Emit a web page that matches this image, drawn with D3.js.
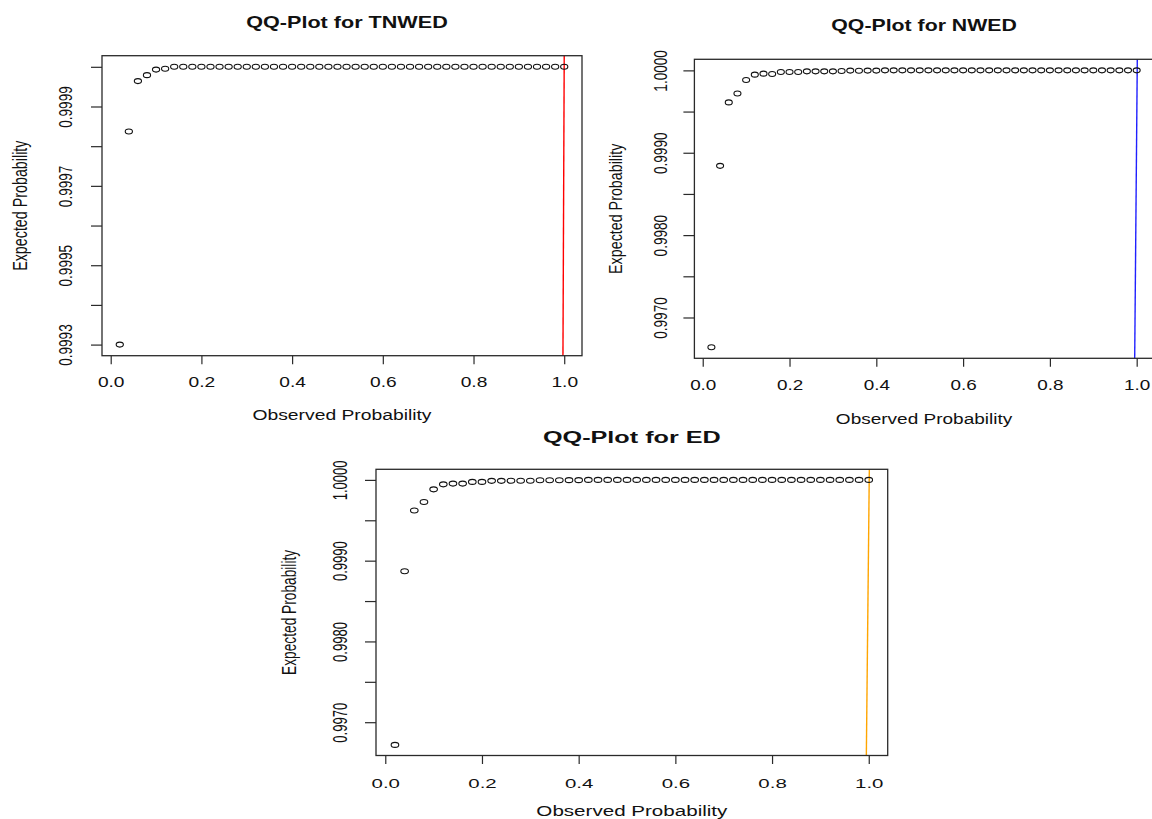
<!DOCTYPE html>
<html>
<head>
<meta charset="utf-8">
<script src="https://cdn.jsdelivr.net/npm/d3@7"></script>
<style>
  html, body { margin: 0; padding: 0; background: #ffffff; }
  svg { display: block; }
  text { font-family: "Liberation Sans", Arial, Helvetica, sans-serif; fill: #111; }
</style>
</head>
<body>
<svg id="chart" width="1152" height="819"></svg>
<script>
// ---------------- data ----------------
const observedProbability = [
  0.02, 0.04, 0.06, 0.08, 0.10, 0.12, 0.14, 0.16, 0.18, 0.20,
  0.22, 0.24, 0.26, 0.28, 0.30, 0.32, 0.34, 0.36, 0.38, 0.40,
  0.42, 0.44, 0.46, 0.48, 0.50, 0.52, 0.54, 0.56, 0.58, 0.60,
  0.62, 0.64, 0.66, 0.68, 0.70, 0.72, 0.74, 0.76, 0.78, 0.80,
  0.82, 0.84, 0.86, 0.88, 0.90, 0.92, 0.94, 0.96, 0.98, 1.00
];

const tnwedExpected = [
  0.999300, 0.999837, 0.999964, 0.999979, 0.999993, 0.999995, 1.000000, 1.000000, 1.000000, 1.000000,
  1.000000, 1.000000, 1.000000, 1.000000, 1.000000, 1.000000, 1.000000, 1.000000, 1.000000, 1.000000,
  1.000000, 1.000000, 1.000000, 1.000000, 1.000000, 1.000000, 1.000000, 1.000000, 1.000000, 1.000000,
  1.000000, 1.000000, 1.000000, 1.000000, 1.000000, 1.000000, 1.000000, 1.000000, 1.000000, 1.000000,
  1.000000, 1.000000, 1.000000, 1.000000, 1.000000, 1.000000, 1.000000, 1.000000, 1.000000, 1.000000
];

const nwedExpected = [
  0.996639, 0.998841, 0.999611, 0.999720, 0.999883, 0.999948, 0.999960, 0.999956, 0.999980, 0.999980,
  0.999980, 0.999988, 0.999988, 0.999988, 0.999988, 0.999992, 0.999997, 0.999995, 0.999997, 0.999997,
  1.000000, 1.000000, 1.000000, 1.000000, 1.000000, 1.000000, 1.000000, 1.000000, 1.000000, 1.000000,
  1.000000, 1.000000, 1.000000, 1.000000, 1.000000, 1.000000, 1.000000, 1.000000, 1.000000, 1.000000,
  1.000000, 1.000000, 1.000000, 1.000000, 1.000000, 1.000000, 1.000000, 1.000000, 1.000000, 1.000000
];

const edExpected = [
  0.996719, 0.998869, 0.999622, 0.999727, 0.999883, 0.999945, 0.999954, 0.999954, 0.999975, 0.999975,
  0.999988, 0.999988, 0.999990, 0.999990, 0.999990, 0.999995, 0.999995, 0.999995, 0.999997, 0.999997,
  1.000000, 1.000000, 1.000000, 1.000000, 1.000000, 1.000000, 1.000000, 1.000000, 1.000000, 1.000000,
  1.000000, 1.000000, 1.000000, 1.000000, 1.000000, 1.000000, 1.000000, 1.000000, 1.000000, 1.000000,
  1.000000, 1.000000, 1.000000, 1.000000, 1.000000, 1.000000, 1.000000, 1.000000, 1.000000, 1.000000
];

const xTicks = [0.0, 0.2, 0.4, 0.6, 0.8, 1.0];
const xTickLabels = ["0.0", "0.2", "0.4", "0.6", "0.8", "1.0"];

const tnwedYTicks = [0.9993, 0.9994, 0.9995, 0.9996, 0.9997, 0.9998, 0.9999, 1.0000];
const tnwedYTickLabels = ["0.9993", "", "0.9995", "", "0.9997", "", "0.9999", ""];

const nwedYTicks = [0.9970, 0.9975, 0.9980, 0.9985, 0.9990, 0.9995, 1.0000];
const nwedYTickLabels = ["0.9970", "", "0.9980", "", "0.9990", "", "1.0000"];

const edYTicks = [0.9970, 0.9975, 0.9980, 0.9985, 0.9990, 0.9995, 1.0000];
const edYTickLabels = ["0.9970", "", "0.9980", "", "0.9990", "", "1.0000"];

// reference (qq) lines: endpoints in data units
const tnwedRefX = [0.9972, 1.0000];
const tnwedRefY = [0.999272, 1.000028];
const nwedRefX = [0.9954, 1.0014];
const nwedRefY = [0.996505, 1.000134];
const edRefX = [0.9950, 1.0012];
const edRefY = [0.996588, 1.000131];

const titles = ["QQ-Plot for TNWED", "QQ-Plot for NWED", "QQ-Plot for ED"];
const xTitle = "Observed Probability";
const yTitle = "Expected Probability";

// ---------------- layout ----------------
const panels = [
  { title: titles[0], y: tnwedExpected, yTicks: tnwedYTicks, yLabels: tnwedYTickLabels,
    refX: tnwedRefX, refY: tnwedRefY, color: "#ff0000",
    box: { l: 102, r: 582, t: 55.7, b: 355.7 },
    titleY: 28, titleDX: 5, titleFs: 1.0, xTickY: 387, xTitleY: 420, yTickX: 71.7, yTitleX: 27,
    sx: 1.35, fs: 1.0, rx: 3.6, ry: 2.5 },
  { title: titles[1], y: nwedExpected, yTicks: nwedYTicks, yLabels: nwedYTickLabels,
    refX: nwedRefX, refY: nwedRefY, color: "#2020ff",
    box: { l: 694.4, r: 1153.7, t: 59.3, b: 358.3 },
    titleY: 31, titleDX: 0, titleFs: 1.0, xTickY: 390, xTitleY: 424, yTickX: 667.3, yTitleX: 622,
    sx: 1.33, fs: 1.0, rx: 3.5, ry: 2.5 },
  { title: titles[2], y: edExpected, yTicks: edYTicks, yLabels: edYTickLabels,
    refX: edRefX, refY: edRefY, color: "#ffa500",
    box: { l: 376, r: 887.7, t: 469.3, b: 755.5 },
    titleY: 443, titleDX: 0, titleFs: 1.05, xTickY: 788, xTitleY: 816, yTickX: 346.7, yTitleX: 296,
    sx: 1.5, fs: 0.96, rx: 3.8, ry: 2.5 }
];

const svg = d3.select("#chart");
const axisColor = "#2a2a2a";

panels.forEach(p => {
  const g = svg.append("g");
  const xs = observedProbability;
  // R-style 4% padding of the data range
  const xMin = d3.min(xs), xMax = d3.max(xs);
  const yMin = d3.min(p.y), yMax = d3.max(p.y);
  const xPad = (xMax - xMin) * 0.04, yPad = (yMax - yMin) * 0.04;
  const x = d3.scaleLinear().domain([xMin - xPad, xMax + xPad]).range([p.box.l, p.box.r]);
  const y = d3.scaleLinear().domain([yMin - yPad, yMax + yPad]).range([p.box.b, p.box.t]);

  // x axis
  const xAxis = d3.axisBottom(x).tickValues(xTicks).tickSize(8.5).tickSizeOuter(0)
    .tickFormat((d, i) => xTickLabels[i]);
  const gx = g.append("g").attr("transform", `translate(0,${p.box.b})`).call(xAxis);
  gx.select(".domain").remove();
  gx.selectAll(".tick line").attr("stroke", axisColor).attr("stroke-width", 1.2);
  gx.selectAll(".tick text")
    .attr("y", null).attr("dy", null)
    .attr("text-anchor", "middle")
    .attr("fill", "#111")
    .style("font-size", (14.2 * p.fs) + "px")
    .attr("transform", `translate(0,${p.xTickY - p.box.b}) scale(${p.sx},1)`);

  // y axis
  const yAxis = d3.axisLeft(y).tickValues(p.yTicks).tickSize(11).tickSizeOuter(0)
    .tickFormat((d, i) => p.yLabels[i]);
  const gy = g.append("g").attr("transform", `translate(${p.box.l},0)`).call(yAxis);
  gy.select(".domain").remove();
  gy.selectAll(".tick line").attr("stroke", axisColor).attr("stroke-width", 1.2);
  gy.selectAll(".tick text")
    .attr("x", null).attr("dy", null).attr("y", null)
    .attr("text-anchor", "middle")
    .attr("fill", "#111")
    .style("font-size", (13.6 * p.fs) + "px")
    .attr("transform", `translate(${p.yTickX - p.box.l},0) scale(${p.sx},1) rotate(-90)`);

  // reference line
  const line = d3.line().x(d => x(d[0])).y(d => y(d[1]));
  g.append("path")
    .datum(d3.zip(p.refX, p.refY))
    .attr("d", line)
    .attr("fill", "none")
    .attr("stroke", p.color)
    .attr("stroke-width", 1.4);

  // points
  g.append("g").selectAll("ellipse")
    .data(d3.zip(xs, p.y))
    .join("ellipse")
    .attr("cx", d => x(d[0]))
    .attr("cy", d => y(d[1]))
    .attr("rx", p.rx).attr("ry", p.ry)
    .attr("fill", "none")
    .attr("stroke", "#111")
    .attr("stroke-width", 1.1);

  // box
  g.append("rect")
    .attr("x", p.box.l).attr("y", p.box.t)
    .attr("width", p.box.r - p.box.l).attr("height", p.box.b - p.box.t)
    .attr("fill", "none").attr("stroke", axisColor).attr("stroke-width", 1.3);

  const cx = (p.box.l + p.box.r) / 2;
  const cy = (p.box.t + p.box.b) / 2;

  // title
  g.append("text")
    .attr("transform", `translate(${cx + p.titleDX},${p.titleY}) scale(${p.sx},1)`)
    .attr("text-anchor", "middle")
    .style("font-size", (16 * p.titleFs) + "px")
    .style("font-weight", "bold")
    .attr("fill", "#000")
    .text(p.title);

  // x title
  g.append("text")
    .attr("transform", `translate(${cx},${p.xTitleY}) scale(${p.sx},1)`)
    .attr("text-anchor", "middle")
    .style("font-size", (14.3 * p.fs) + "px")
    .text(xTitle);

  // y title
  g.append("text")
    .attr("transform", `translate(${p.yTitleX},${cy}) scale(${p.sx},1) rotate(-90)`)
    .attr("text-anchor", "middle")
    .style("font-size", (14.3 * p.fs) + "px")
    .text(yTitle);
});
</script>
</body>
</html>
